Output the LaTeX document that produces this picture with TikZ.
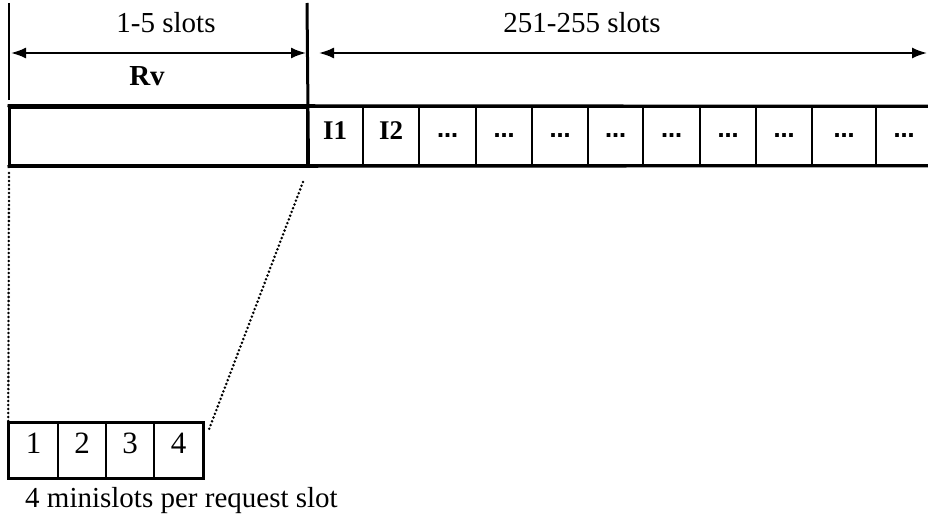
\documentclass[tikz,border=0pt]{standalone}
\usepackage{fontspec}
\setmainfont{Liberation Serif}
\newfontfamily\dotfont{DejaVu Sans}
\usetikzlibrary{arrows.meta}
\begin{document}
\begin{tikzpicture}[x=1pt,y=-1pt,
  cellbox/.style={draw, line width=1.5pt, minimum height=58pt, inner sep=0pt, anchor=center},
  idcell/.style={cellbox, text depth=11pt, font=\fontsize{27}{30}\selectfont\bfseries},
  dotcell/.style={cellbox, font=\dotfont\fontsize{21}{26}\selectfont\bfseries},
  mini/.style={draw, line width=1.5pt, minimum height=55pt, inner sep=0pt, text depth=14pt, font=\fontsize{31}{34}\selectfont},
  framel/.style={line width=3pt},
  guide/.style={line width=2pt},
  dimarrow/.style={line width=2pt, {Latex[length=15pt,width=11pt]}-{Latex[length=15pt,width=11pt]}},
  lbl/.style={inner sep=0pt, anchor=base, font=\fontsize{29}{34}\selectfont},
  dotline/.style={line width=2.8pt, line cap=round, dash pattern=on 0pt off 4pt}
]
\useasboundingbox (0,0) rectangle (928,519);

% guide lines
\coordinate (gl1) at (9,3);
\coordinate (gl2) at (9,100);
\coordinate (gm1) at (307,3);
\draw[guide] (gl1) -- (gl2);

% frame
\node[draw, framel, minimum width=298pt, minimum height=58pt, inner sep=0pt] (rvbox) at (158,136) {};
\node[idcell, minimum width=56pt] (c1) at (335,136) {I1};
\node[idcell, minimum width=56pt] (c2) at (391,136) {I2};
\node[dotcell, minimum width=57pt] (c3) at (447.5,136) {…};
\node[dotcell, minimum width=56pt] (c4) at (504,136) {…};
\node[dotcell, minimum width=56pt] (c5) at (560,136) {…};
\node[dotcell, minimum width=55pt] (c6) at (615.5,136) {…};
\node[dotcell, minimum width=57pt] (c7) at (671.5,136) {…};
\node[dotcell, minimum width=56pt] (c8) at (728,136) {…};
\node[dotcell, minimum width=56pt] (c9) at (784,136) {…};
\node[dotcell, minimum width=64pt] (c10) at (844,136) {…};
\node[dotcell, minimum width=56pt] (c11) at (904,136) {…};
\draw[framel] (rvbox.north west) -- (c11.north east);
\draw[framel] (rvbox.south west) -- (c11.south east);
\draw[framel] (rvbox.south east) -- (gm1);

% dimension arrows
\coordinate (a1l) at (11,53);
\coordinate (a1r) at (306,53);
\coordinate (a2l) at (319,53);
\coordinate (a2r) at (927,53);
\draw[dimarrow] (a1l) -- (a1r);
\draw[dimarrow] (a2l) -- (a2r);
\node[lbl] (l15) at (166,33) {1-5 slots};
\node[lbl, font=\fontsize{29}{34}\selectfont\bfseries] (lrv) at (147,85) {Rv};
\node[lbl] (l251) at (582,33) {251-255 slots};

% minislots
\node[mini, minimum width=49pt] (m1) at (33.5,450.5) {1};
\node[mini, minimum width=48pt] (m2) at (82,450.5) {2};
\node[mini, minimum width=48pt] (m3) at (130,450.5) {3};
\node[mini, minimum width=49pt] (m4) at (178.5,450.5) {4};
\draw[framel] (m1.north west) rectangle (m4.south east);
\node[lbl, anchor=base west] (lmini) at (25,507) {4 minislots per request slot};

% dotted projection lines
\coordinate (d1a) at (9,173);
\coordinate (d2a) at (303,182);
\coordinate (d2b) at (208,432);
\draw[dotline] (d1a) -- (m1.north west);
\draw[dotline] (d2a) -- (d2b);
\end{tikzpicture}
\end{document}
